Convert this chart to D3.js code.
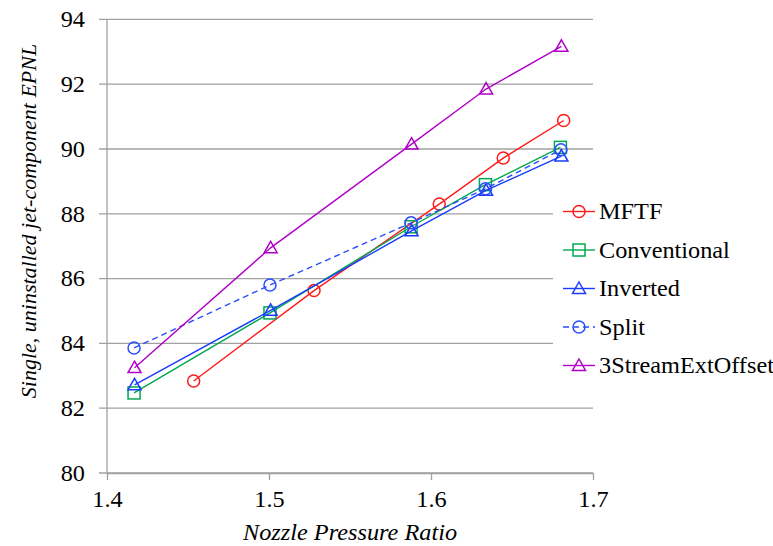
<!DOCTYPE html>
<html>
<head>
<meta charset="utf-8">
<script src="https://cdn.jsdelivr.net/npm/d3@7"></script>
<style>
  html, body { margin: 0; padding: 0; background: #fff; }
  svg { display: block; }
</style>
</head>
<body>
<svg id="chart" width="773" height="546"></svg>
<script>
// ---- Data ----
const seriesNames = ["MFTF", "Conventional", "Inverted", "Split", "3StreamExtOffset"];
const mftfX = [1.4535, 1.5278, 1.6051, 1.6446, 1.6819];
const mftfY = [82.84, 85.63, 88.30, 89.72, 90.88];
const convX = [1.4167, 1.5006, 1.5877, 1.6336, 1.6799];
const convY = [82.47, 84.94, 87.60, 88.90, 90.05];
const invX  = [1.4170, 1.5010, 1.5880, 1.6340, 1.6805];
const invY  = [82.72, 85.02, 87.47, 88.72, 89.78];
const splitX = [1.4167, 1.5006, 1.5877, 1.6336, 1.6802];
const splitY = [83.86, 85.80, 87.72, 88.77, 89.98];
const s3X = [1.4170, 1.5010, 1.5880, 1.6340, 1.6805];
const s3Y = [83.25, 86.95, 90.15, 91.85, 93.17];
const xTicks = [1.4, 1.5, 1.6, 1.7];
const yTicks = [80, 82, 84, 86, 88, 90, 92, 94];

const series = [
  {name: seriesNames[0], xs: mftfX, ys: mftfY, color: "#ff1a1a", marker: "circle", dash: null},
  {name: seriesNames[1], xs: convX, ys: convY, color: "#00a84f", marker: "square", dash: null},
  {name: seriesNames[2], xs: invX, ys: invY, color: "#1a3cff", marker: "triangle", dash: null},
  {name: seriesNames[3], xs: splitX, ys: splitY, color: "#2a4dff", marker: "circle", dash: "6,4"},
  {name: seriesNames[4], xs: s3X, ys: s3Y, color: "#b000c8", marker: "triangle", dash: null}
];

// ---- Layout ----
const svg = d3.select("#chart");
const pLeft = 107, pRight = 593, pTop = 19.4, pBottom = 473;
const x = d3.scaleLinear().domain([1.4, 1.7]).range([pLeft, pRight]);
const y = d3.scaleLinear().domain([80, 94]).range([pBottom, pTop]);
const gridColor = "#a0a0a0";
const font = "'Liberation Serif', 'Times New Roman', serif";
const fs = 22.5;
const stretch = "scale(1.08,1)";

// gridlines (y) with left tick
const gY = svg.append("g");
gY.selectAll("line.grid").data(yTicks).join("line")
  .attr("x1", pLeft - 8).attr("x2", pRight)
  .attr("y1", d => y(d)).attr("y2", d => y(d))
  .attr("stroke", gridColor).attr("stroke-width", 1.3);

// y axis line
svg.append("line").attr("x1", pLeft).attr("x2", pLeft).attr("y1", pTop).attr("y2", pBottom)
  .attr("stroke", gridColor).attr("stroke-width", 1.3);

// x axis with ticks
const xAxis = d3.axisBottom(x).tickValues(xTicks).tickSize(7).tickSizeOuter(0)
  .tickFormat(d3.format(".1f"));
const gx = svg.append("g").attr("transform", `translate(0,${pBottom})`).call(xAxis);
gx.select(".domain").attr("stroke", gridColor).attr("stroke-width", 1.3);
gx.selectAll(".tick line").attr("stroke", gridColor).attr("stroke-width", 1.3);
gx.selectAll(".tick text").attr("font-family", font).attr("font-size", fs)
  .attr("fill", "#000").attr("y", 12).attr("dy", "1em").attr("transform", stretch);

// y tick labels
const yAxis = d3.axisLeft(y).tickValues(yTicks).tickSize(0).tickPadding(0).tickFormat(d3.format("d"));
const gy = svg.append("g").attr("transform", `translate(85,0)`).call(yAxis);
gy.select(".domain").remove();
gy.selectAll(".tick text").attr("font-family", font).attr("font-size", fs)
  .attr("fill", "#000").attr("x", 0).attr("transform", stretch);

// axis titles
svg.append("text").attr("transform", `translate(${(pLeft + pRight) / 2},540) ${stretch}`)
  .attr("text-anchor", "middle").attr("font-family", font).attr("font-style", "italic")
  .attr("font-size", fs).text("Nozzle Pressure Ratio");
svg.append("text").attr("transform", `translate(36,221) rotate(-90)`)
  .attr("text-anchor", "middle").attr("font-family", font).attr("font-style", "italic")
  .attr("font-size", 22).text("Single, uninstalled jet-component EPNL");

// marker drawing
function drawMarker(g, type, cx, cy, color) {
  if (type === "circle") {
    g.append("circle").attr("cx", cx).attr("cy", cy).attr("r", 6)
      .attr("fill", "none").attr("stroke", color).attr("stroke-width", 1.5);
  } else if (type === "square") {
    g.append("rect").attr("x", cx - 6).attr("y", cy - 6).attr("width", 12).attr("height", 12)
      .attr("fill", "none").attr("stroke", color).attr("stroke-width", 1.5);
  } else {
    const s = 6.5;
    g.append("path").attr("d", `M${cx},${cy - s} L${cx + s},${cy + s * 0.75} L${cx - s},${cy + s * 0.75} Z`)
      .attr("fill", "none").attr("stroke", color).attr("stroke-width", 1.5);
  }
}

// legend background (covers gridlines like Excel)
svg.append("rect").attr("x", 553).attr("y", 190).attr("width", 220).attr("height", 195).attr("fill", "#fff");

// series lines & markers
const line = d3.line().x(d => x(d[0])).y(d => y(d[1]));
series.forEach(s => {
  const pts = s.xs.map((v, i) => [v, s.ys[i]]);
  const g = svg.append("g");
  g.append("path").attr("d", line(pts)).attr("fill", "none").attr("stroke", s.color)
    .attr("stroke-width", 1.4).attr("stroke-dasharray", s.dash);
  pts.forEach(p => drawMarker(g, s.marker, x(p[0]), y(p[1]), s.color));
});

// legend
const legY0 = 211.5, legStep = 38.5;
series.forEach((s, i) => {
  const ly = legY0 + i * legStep;
  const g = svg.append("g");
  g.append("line").attr("x1", 563).attr("x2", 595).attr("y1", ly).attr("y2", ly)
    .attr("stroke", s.color).attr("stroke-width", 1.4).attr("stroke-dasharray", s.dash);
  drawMarker(g, s.marker, 579, ly, s.color);
  g.append("text").attr("transform", `translate(599,${ly}) ${stretch}`).attr("dy", "0.35em")
    .attr("font-family", font).attr("font-size", fs).attr("fill", "#000").text(s.name);
});
</script>
</body>
</html>
